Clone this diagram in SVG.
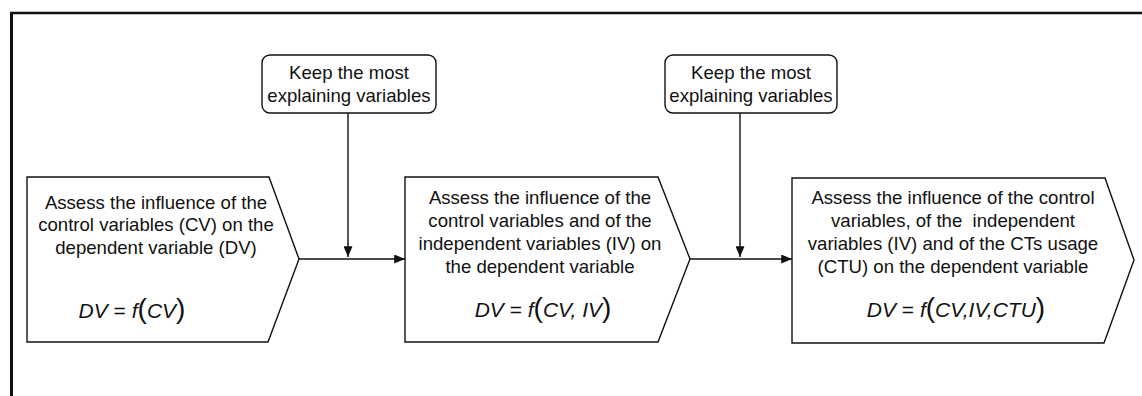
<svg xmlns="http://www.w3.org/2000/svg" width="1142" height="396" viewBox="0 0 1142 396">
  <style>
    .frame { fill: none; stroke: #111; }
    .step { fill: #fff; stroke: #111; stroke-width: 1.4; stroke-linejoin: miter; }
    .note { fill: #fff; stroke: #111; stroke-width: 1.4; }
    .txt { font-family: "Liberation Sans", Arial, sans-serif; font-size: 18.6px; fill: #111; text-anchor: middle; }
    .eq { font-family: "Liberation Sans", Arial, sans-serif; font-size: 21px; fill: #111; text-anchor: middle; }
    .it { font-style: italic; }
    .par { font-size: 28px; }
    .wire { fill: none; stroke: #111; stroke-width: 1.4; }
  </style>
  <defs>
    <marker id="arrow" viewBox="0 0 12 10" refX="12" refY="5" markerWidth="11" markerHeight="9" markerUnits="userSpaceOnUse" orient="auto">
      <path d="M0,0 L12,5 L0,10 Z" fill="#111"/>
    </marker>
  </defs>

  <rect width="1142" height="396" fill="#fff"/>

  <!-- page frame (left and top edges) -->
  <path class="frame" d="M11.5,396 L11.5,13" stroke-width="3"/>
  <path class="frame" d="M10,13 L1142,13" stroke-width="2.5"/>

  <!-- step 1 -->
  <g id="step1">
    <polygon class="step" points="27,177 269,177 299,259 268,342 27,342"/>
    <text class="txt" x="156" y="209">Assess the influence of the</text>
    <text class="txt" x="156" y="231">control variables (CV) on the</text>
    <text class="txt" x="156" y="254">dependent variable (DV)</text>
    <text class="eq" x="132" y="318"><tspan class="it">DV</tspan> = <tspan class="it">f</tspan><tspan class="par">(</tspan><tspan class="it">CV</tspan><tspan class="par">)</tspan></text>
  </g>

  <!-- step 2 -->
  <g id="step2">
    <polygon class="step" points="405,177 658,177 690,259 658,342 405,342"/>
    <text class="txt" x="540" y="204">Assess the influence of the</text>
    <text class="txt" x="540" y="227">control variables and of the</text>
    <text class="txt" x="540" y="250">independent variables (IV) on</text>
    <text class="txt" x="540" y="273">the dependent variable</text>
    <text class="eq" x="543" y="317"><tspan class="it">DV</tspan> = <tspan class="it">f</tspan><tspan class="par">(</tspan><tspan class="it">CV, IV</tspan><tspan class="par">)</tspan></text>
  </g>

  <!-- step 3 -->
  <g id="step3">
    <polygon class="step" points="792,178 1105,178 1134,260 1104,343 792,343"/>
    <text class="txt" x="953" y="204">Assess the influence of the control</text>
    <text class="txt" x="953" y="227" xml:space="preserve">variables, of the  independent</text>
    <text class="txt" x="953" y="250">variables (IV) and of the CTs usage</text>
    <text class="txt" x="953" y="273">(CTU) on the dependent variable</text>
    <text class="eq" x="956" y="317"><tspan class="it">DV</tspan> = <tspan class="it">f</tspan><tspan class="par">(</tspan><tspan class="it">CV,IV,CTU</tspan><tspan class="par">)</tspan></text>
  </g>

  <!-- selection notes -->
  <g id="keep1">
    <rect class="note" x="262" y="55" width="174" height="58" rx="8"/>
    <text class="txt" x="349" y="79">Keep the most</text>
    <text class="txt" x="349" y="102">explaining variables</text>
  </g>
  <g id="keep2">
    <rect class="note" x="665" y="55" width="172" height="58" rx="8"/>
    <text class="txt" x="751" y="79">Keep the most</text>
    <text class="txt" x="751" y="102">explaining variables</text>
  </g>

  <!-- connectors -->
  <g id="connectors">
    <path class="wire" d="M299,259 L405,259" marker-end="url(#arrow)"/>
    <path class="wire" d="M348,113 L348,257" marker-end="url(#arrow)"/>
    <path class="wire" d="M690,259 L792,259" marker-end="url(#arrow)"/>
    <path class="wire" d="M740,113 L740,257" marker-end="url(#arrow)"/>
  </g>
</svg>
